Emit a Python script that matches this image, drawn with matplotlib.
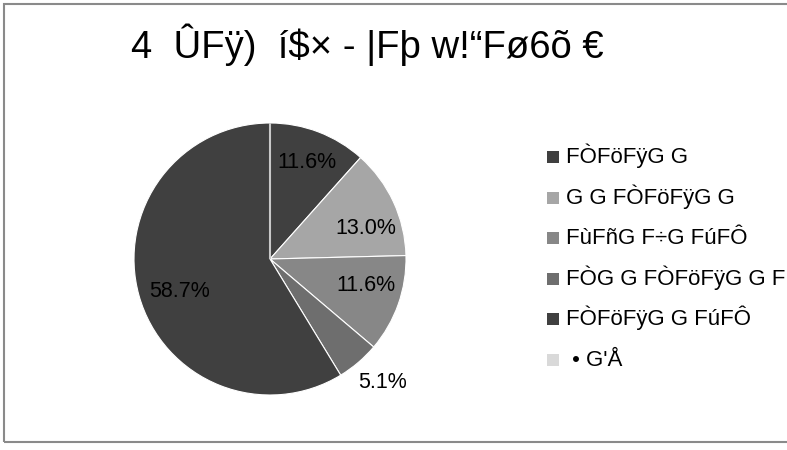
import numpy as np
import matplotlib.pyplot as plt
from matplotlib.patches import Rectangle

plt.rcParams['font.family'] = ['Liberation Sans', 'DejaVu Sans']

title = "4  ÛFÿ)  í$× - |Fþ w!“Fø6õ €"
labels = ["FÒFöFÿG G", "G G FÒFöFÿG G", "FùFñG F÷G FúFÔ",
          "FÒG G FÒFöFÿG G F", "FÒFöFÿG G FúFÔ", " \u2022 G'Å"]
shares = [11.6, 13.0, 11.6, 5.1, 58.7, 0.0]
colors = ['#404040', '#a6a6a6', '#878787', '#6e6e6e', '#404040', '#d9d9d9']

# label placement (radius fraction, angle nudge in degrees) like Excel best fit
lab_dist = [0.76, 0.74, 0.73, 1.23, 0.71]
lab_nudge = [0, -7, 4, 2, 4]

W, H = 787, 450
fig = plt.figure(figsize=(W / 100, H / 100), dpi=100)


def px(x, y):
    return x / W, 1 - y / H


# chart area border (right side runs off the image)
fig.add_artist(Rectangle(px(3.5, 442), 1.0, (442 - 3.5) / H,
                         transform=fig.transFigure, fill=False,
                         edgecolor='#8a8a8a', lw=1.5))

fig.text(*px(367, 58), title, ha='center', va='baseline', fontsize=27.5)

r = 136
cx, cy = 270, 259
ax = fig.add_axes([(cx - r) / W, 1 - (cy + r) / H, 2 * r / W, 2 * r / H])
wedges, texts, autotexts = ax.pie(
    shares, colors=colors, startangle=90, counterclock=False,
    autopct=lambda p: f'{p:.1f}%' if p > 0 else '', pctdistance=0.74,
    wedgeprops=dict(edgecolor='white', linewidth=0.8),
    textprops=dict(fontsize=15.5, color='black'))
wedges[-1].set_edgecolor('#c8c8c8')
wedges[-1].set_linewidth(1.5)

for i, (d, n) in enumerate(zip(lab_dist, lab_nudge)):
    w = wedges[i]
    mid = np.deg2rad((w.theta1 + w.theta2) / 2 + n)
    autotexts[i].set_position((d * np.cos(mid), d * np.sin(mid)))
ax.set_xlim(-1, 1)
ax.set_ylim(-1, 1)
ax.set_aspect('equal')

# legend drawn by hand so the rows are evenly spaced
for i, (lab, c) in enumerate(zip(labels, colors)):
    yc = 157 + i * 40.6
    fig.add_artist(Rectangle(px(547, yc + 6), 12 / W, 12 / H,
                             transform=fig.transFigure, facecolor=c,
                             edgecolor='none'))
    fig.text(*px(566, yc + 6), lab, ha='left', va='baseline', fontsize=16)

fig.savefig('out.png', dpi=100)
